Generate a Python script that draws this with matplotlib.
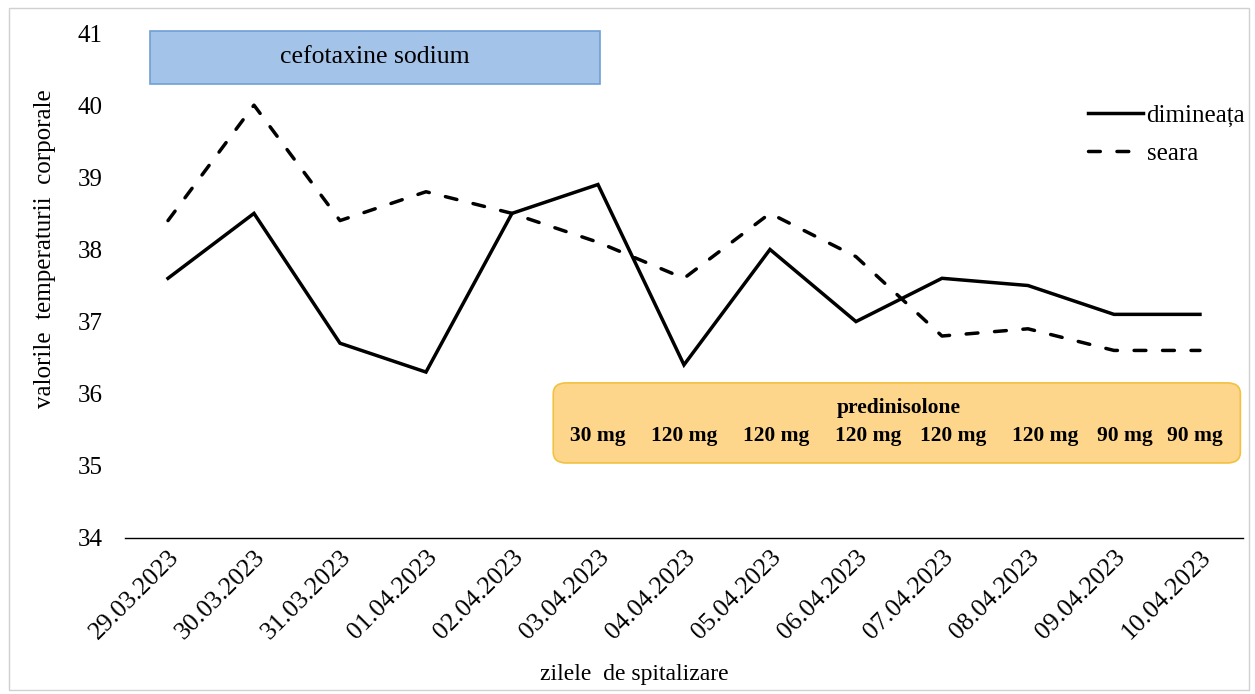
import matplotlib.pyplot as plt
from matplotlib.patches import Rectangle, FancyBboxPatch

plt.rcParams['font.family'] = ['Liberation Serif', 'DejaVu Serif']

dates = ['29.03.2023', '30.03.2023', '31.03.2023', '01.04.2023', '02.04.2023',
         '03.04.2023', '04.04.2023', '05.04.2023', '06.04.2023', '07.04.2023',
         '08.04.2023', '09.04.2023', '10.04.2023']
dimineata = [37.6, 38.5, 36.7, 36.3, 38.5, 38.9, 36.4, 38.0, 37.0, 37.6, 37.5, 37.1, 37.1]
seara = [38.4, 40.0, 38.4, 38.8, 38.5, 38.1, 37.6, 38.5, 37.9, 36.8, 36.9, 36.6, 36.6]
doses = ['30 mg', '120 mg', '120 mg', '120 mg', '120 mg', '120 mg', '90 mg', '90 mg']
dose_x = [5.0, 6.0, 7.07, 8.14, 9.13, 10.2, 11.13, 11.94]

fig = plt.figure(figsize=(12.55, 6.94), dpi=100)
ax = fig.add_axes([0.0996, 0.2248, 0.8908, 0.7276])

x = range(len(dates))
ax.plot(x, dimineata, color='black', lw=2.5, solid_joinstyle='miter', label='dimineața')
ax.plot(x, seara, color='black', lw=2.5, ls=(0, (3.4, 4.8)), dash_capstyle='round',
        label='seara')

ax.set_xlim(-0.5, 12.5)
ax.set_ylim(34, 41)
ax.set_yticks(range(34, 42))
ax.set_xticks(list(x))
ax.set_xticklabels(dates, rotation=45, ha='right', rotation_mode='anchor', fontsize=18.5)
ax.tick_params(axis='both', length=0, labelsize=18)
ax.tick_params(axis='x', labelsize=18.5, pad=6)
ax.tick_params(axis='y', pad=16)
for s in ['left', 'right', 'top']:
    ax.spines[s].set_visible(False)
ax.spines['bottom'].set_linewidth(1.0)

ax.set_ylabel('valorile  temperaturii  corporale', fontsize=18)
ax.yaxis.set_label_coords(-0.062, 0.574)
ax.set_xlabel('zilele  de spitalizare', fontsize=17, va='center')
ax.xaxis.set_label_coords(0.456, -0.271)

# cefotaxine box
ax.add_patch(Rectangle((-0.21, 40.30), 5.23, 0.73, facecolor='#a4c3e8',
                       edgecolor='#6f9fd6', lw=1.2, clip_on=False, zorder=3))
ax.text(2.4, 40.67, 'cefotaxine sodium', ha='center', va='center', fontsize=18.5, zorder=4)

# predinisolone box
ax.add_patch(FancyBboxPatch((4.48, 35.04), 7.99, 1.11,
                            boxstyle='round,pad=0,rounding_size=0.15',
                            mutation_aspect=1.0, facecolor='#fdd68c',
                            edgecolor='#f2c140', lw=1.2, clip_on=False, zorder=3))
ax.text(8.5, 35.80, 'predinisolone', ha='center', va='center', fontsize=15.5,
        fontweight='bold', zorder=4)
for d, xp in zip(doses, dose_x):
    ax.text(xp, 35.42, d, ha='center', va='center', fontsize=15.5,
            fontweight='bold', zorder=4)

ax.legend(loc='upper left', bbox_to_anchor=(0.861, 0.859), frameon=False,
          borderpad=0, borderaxespad=0, fontsize=18, handlelength=2.2,
          labelspacing=0.62, handletextpad=0.16)

fig.add_artist(Rectangle((0.007, 0.006), 0.988, 0.982, transform=fig.transFigure,
                         fill=False, edgecolor='#d0d0d0', lw=1.0))

fig.savefig('out.png', dpi=100)
